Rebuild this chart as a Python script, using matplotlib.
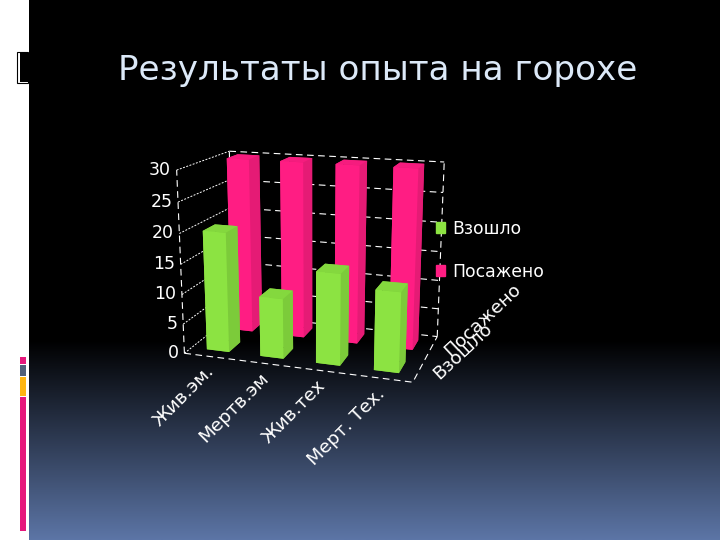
import numpy as np
import matplotlib
matplotlib.use("Agg")
from matplotlib import pyplot as plt
from matplotlib.patches import Patch, Rectangle
from mpl_toolkits.mplot3d import proj3d

# data
categories = ["Жив.эм.", "Мертв.эм", "Жив.тех", "Мерт. Тех."]
series = ["Взошло", "Посажено"]
sprouted = [20, 10, 15, 13]
planted = [30, 30, 30, 30]
z_ticks = [0, 5, 10, 15, 20, 25, 30]
title = "Результаты опыта на горохе"

GREEN = "#8CE342"
GREEN_SIDE = "#7CCB3A"
GREEN_TOP = "#84D83E"
PINK = "#FF1D83"
PINK_SIDE = "#E51B75"
PINK_TOP = "#F51C7E"

fig = plt.figure(figsize=(7.2, 5.4), dpi=100, facecolor="white")

# slide background, pixel coordinates
bg = fig.add_axes([0, 0, 1, 1], zorder=0)
bg.axis("off")
grad = np.zeros((200, 1, 3))
grad[:, 0, 0] = np.linspace(0, 92 / 255, 200)
grad[:, 0, 1] = np.linspace(0, 117 / 255, 200)
grad[:, 0, 2] = np.linspace(0, 166 / 255, 200)
bg.imshow(grad, extent=(29, 720, 540, 340), aspect="auto", interpolation="bilinear")
bg.add_patch(Rectangle((29, 0), 691, 340, color="black", lw=0))
bg.set_xlim(0, 720)
bg.set_ylim(540, 0)

# decoration strip on the left
bg.add_patch(Rectangle((17, 52), 11, 31, fc="white", ec="black", lw=0.8))
bg.add_patch(Rectangle((19.5, 53), 9, 29, fc="black", lw=0))
bg.add_patch(Rectangle((20, 357), 6, 7, color="#E6187C", lw=0))
bg.add_patch(Rectangle((20, 365), 6, 11, color="#51607A", lw=0))
bg.add_patch(Rectangle((20, 377), 6, 19, color="#FFB612", lw=0))
bg.add_patch(Rectangle((20, 397), 6, 134, color="#E6187C", lw=0))

bg.text(118, 80, title, color="#DCE9F8", fontsize=24.6, va="baseline", ha="left")

# 3d chart, short focal length gives the stronger perspective of the slide
ax = fig.add_axes([-0.074, 0.009, 1, 1], projection="3d", zorder=1, computed_zorder=False)
ax.patch.set_alpha(0)
ax.set_axis_off()
ax.set_proj_type("persp", focal_length=0.30)
ax.view_init(elev=15.5, azim=-72)
n = len(categories)
ax.set_xlim(0, n, view_margin=0)
ax.set_ylim(0, 2, view_margin=0)
ax.set_zlim(0, 30, view_margin=0)
ax.set_box_aspect((232, 125, 185), zoom=0.58)

wall = dict(color="white", lw=0.7, ls=(0, (2, 1.5)), zorder=1)
line = dict(color="white", lw=0.8, ls=(0, (6, 4)), zorder=1)
for v in z_ticks:
    ax.plot([0, 0], [0, 2], [v, v], **wall)
    ax.plot([0, n], [2, 2], [v, v], **line)
ax.plot([0, n, n], [0, 0, 2], [0, 0, 0], **line)
ax.plot([0, 0], [0, 0], [0, 30], **line)
ax.plot([0, 0], [2, 2], [0, 30], **line)
ax.plot([n, n], [2, 2], [0, 30], **line)

x = np.arange(n) + 0.29
for vals, y0, c, side, top, z in [(planted, 1.27, PINK, PINK_SIDE, PINK_TOP, 2),
                                  (sprouted, 0.27, GREEN, GREEN_SIDE, GREEN_TOP, 3)]:
    # face order: bottom, top, front, back, left, right
    faces = [side, top, c, side, c, side] * n
    ax.bar3d(x, np.full(n, y0), np.zeros(n), 0.42, 0.46, vals, color=faces, shade=False, zorder=z)


def label(xs, ys, zs, s, **kw):
    # Text3D ignores rotation, so project by hand and use a 2d text
    px, py, _ = proj3d.proj_transform(xs, ys, zs, ax.get_proj())
    ax.text2D(px, py, s, transform=ax.transData, color="white", zorder=5, **kw)


for v in z_ticks:
    label(-0.1, 0, v, str(v), fontsize=12.5, ha="right", va="center")
for i, name in enumerate(categories):
    label(i + 0.5, 0, -2, name, fontsize=13.3, rotation=45, rotation_mode="anchor",
          ha="right", va="center")
for j, name in enumerate(series):
    label(n + 0.3, j + 0.3, 0, name, fontsize=13.3, rotation=43, rotation_mode="anchor",
          ha="left", va="center")

handles = [Patch(color=GREEN), Patch(color=PINK)]
fig.legend(handles, series, loc="upper left", bbox_to_anchor=(0.584, 0.622), frameon=False,
           labelcolor="white", fontsize=12.4, handlelength=0.55, handleheight=0.55,
           handletextpad=0.4, labelspacing=1.45)

fig.savefig("out.png", dpi=100)
